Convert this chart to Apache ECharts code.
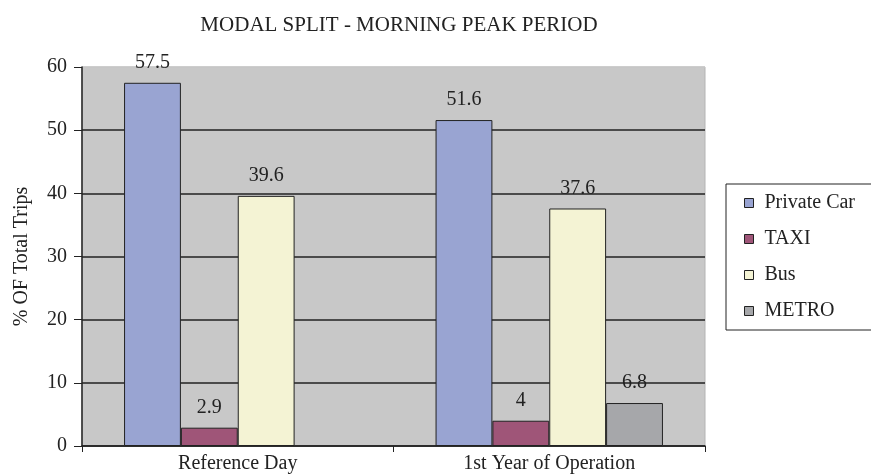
<!DOCTYPE html>
<html>
<head>
<meta charset="utf-8">
<script src="https://cdn.jsdelivr.net/npm/echarts@6/dist/echarts.min.js"></script>
<style>
  html, body { margin: 0; padding: 0; background: #fff; }
  #main { width: 871px; height: 475px; }
</style>
</head>
<body>
<div id="main"></div>
<script>
// data
const categories = ['Reference Day', '1st Year of Operation'];
const privateCar = [57.5, 51.6];
const taxi = [2.9, 4];
const bus = [39.6, 37.6];
const metro = [null, 6.8];

const FONT = "'Liberation Serif', 'DejaVu Serif', serif";
const chart = echarts.init(document.getElementById('main'));

function barSeries(name, data, color) {
  return {
    name: name,
    type: 'bar',
    data: data,
    barGap: 0,
    barCategoryGap: '27%',
    itemStyle: { color: color, borderColor: '#222', borderWidth: 1 },
    label: {
      show: true,
      position: 'top',
      distance: 10,
      color: '#222',
      fontSize: 20,
      fontFamily: FONT
    }
  };
}

const option = {
  animation: false,
  backgroundColor: '#fff',
  textStyle: { fontFamily: FONT },
  title: {
    text: 'MODAL SPLIT - MORNING PEAK PERIOD',
    left: 394,
    top: 10,
    textAlign: 'center',
    textStyle: { fontFamily: FONT, fontSize: 21, fontWeight: 'normal', color: '#222' }
  },
  legend: {
    orient: 'vertical',
    left: 726,
    top: 184,
    padding: [9, 60, 9, 18],
    itemGap: 16,
    itemWidth: 9,
    itemHeight: 9,
    icon: 'rect',
    backgroundColor: '#fff',
    borderColor: '#222',
    borderWidth: 1,
    borderRadius: 0,
    itemStyle: { borderColor: '#222', borderWidth: 1 },
    textStyle: { fontFamily: FONT, fontSize: 20, color: '#222', padding: [0, 0, 0, 6] },
    data: ['Private Car', 'TAXI', 'Bus', 'METRO']
  },
  grid: {
    left: 82,
    right: 166,
    top: 67,
    bottom: 29,
    show: true,
    backgroundColor: '#c8c8c8',
    borderColor: '#b4b4b4',
    borderWidth: 1,
    containLabel: false
  },
  xAxis: {
    type: 'category',
    data: categories,
    axisLine: { lineStyle: { color: '#222', width: 1.5 } },
    axisTick: { show: true, length: 6, lineStyle: { color: '#222' } },
    axisLabel: { color: '#222', fontSize: 20, fontFamily: FONT, margin: 8 }
  },
  yAxis: {
    type: 'value',
    min: 0,
    max: 60,
    interval: 10,
    name: '% OF Total Trips',
    nameLocation: 'middle',
    nameGap: 50,
    nameTextStyle: { fontFamily: FONT, fontSize: 20, color: '#222' },
    axisLine: { show: true, lineStyle: { color: '#222', width: 1.5 } },
    axisTick: { show: true, length: 8, lineStyle: { color: '#222' } },
    axisLabel: { color: '#222', fontSize: 20, fontFamily: FONT, margin: 15 },
    splitLine: {
      show: true,
      lineStyle: {
        color: ['#222', '#222', '#222', '#222', '#222', '#222', '#c8c8c8'],
        width: 1.5
      }
    }
  },
  series: [
    barSeries('Private Car', privateCar, '#99a4d2'),
    barSeries('TAXI', taxi, '#9f5578'),
    barSeries('Bus', bus, '#f4f3d4'),
    barSeries('METRO', metro, '#a6a7aa')
  ]
};

chart.setOption(option);
</script>
</body>
</html>
